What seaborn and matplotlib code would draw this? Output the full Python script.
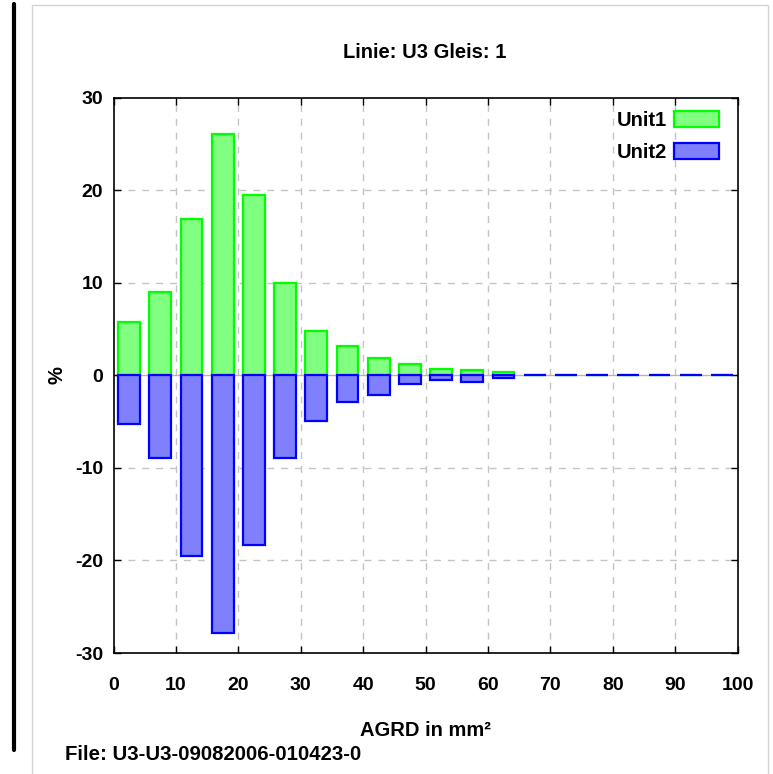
import numpy as np
import pandas as pd
import matplotlib
matplotlib.use("Agg")
import matplotlib.pyplot as plt
from matplotlib.patches import Patch, Rectangle
from matplotlib.lines import Line2D
import seaborn as sns

# ---- data ----
bin_centers = [2.5, 7.5, 12.5, 17.5, 22.5, 27.5, 32.5, 37.5, 42.5, 47.5,
               52.5, 57.5, 62.5, 67.5, 72.5, 77.5, 82.5, 87.5, 92.5, 97.5]
unit1 = [5.8, 9.0, 16.9, 26.1, 19.5, 10.0, 4.8, 3.2, 1.9, 1.25,
         0.7, 0.55, 0.3, 0, 0, 0, 0, 0, 0, 0]
unit2 = [-5.3, -8.9, -19.5, -27.8, -18.3, -8.9, -4.9, -2.9, -2.1, -0.9,
         -0.5, -0.7, -0.3, 0, 0, 0, 0, 0, 0, 0]
x_ticks = [0, 10, 20, 30, 40, 50, 60, 70, 80, 90, 100]
y_ticks = [-30, -20, -10, 0, 10, 20, 30]
series_names = ["Unit1", "Unit2"]

title_text = "Linie: U3 Gleis: 1"
xlabel_text = "AGRD in mm²"
ylabel_text = "%"
file_text = "File: U3-U3-09082006-010423-0"

sns.set_theme(style="white")
plt.rcParams['font.family'] = ['Liberation Sans', 'DejaVu Sans']
plt.rcParams['font.weight'] = 'bold'
plt.rcParams['text.color'] = 'black'

W, H = 773, 774
fig = plt.figure(figsize=(W / 100, H / 100), dpi=100)
fig.patch.set_facecolor("white")

def fx(px):
    return px / W

def fy(py):
    return 1 - py / H

ax = fig.add_axes([fx(113.5), fy(653), fx(737.5) - fx(113.5), fy(97.5) - fy(653)])
ax.set_facecolor("white")

df1 = pd.DataFrame({"x": bin_centers, "y": unit1})
df2 = pd.DataFrame({"x": bin_centers, "y": unit2})

g1, e1 = "#80ff80", "#00ff00"
b1, e2 = "#8080ff", "#0000ff"

# grid first
for xv in x_ticks[1:-1]:
    ax.axvline(xv, color="#c4c4c4", lw=1.0, ls=(0, (5, 5)), zorder=0)
for yv in y_ticks[1:-1]:
    if yv == 0:
        ax.axhline(yv, color="#b4b4b4", lw=1.0, zorder=0)
    else:
        ax.axhline(yv, color="#c4c4c4", lw=1.0, ls=(0, (5, 5)), zorder=0)

sns.barplot(data=df1, x="x", y="y", native_scale=True, orient="x", width=0.7,
            color=g1, saturation=1, edgecolor=e1, linewidth=1.6, errorbar=None, ax=ax,
            zorder=2)
sns.barplot(data=df2, x="x", y="y", native_scale=True, orient="x", width=0.7,
            color=b1, saturation=1, edgecolor=e2, linewidth=1.6, errorbar=None, ax=ax,
            zorder=3)

ax.set_xlim(0, 100)
ax.set_ylim(-30, 30)
ax.set_xticks(x_ticks)
ax.set_yticks(y_ticks)
ax.set_xticklabels([str(v) for v in x_ticks], fontsize=14, fontweight="bold")
ax.set_yticklabels([str(v) for v in y_ticks], fontsize=14, fontweight="bold")
ax.tick_params(axis="x", direction="in", length=5, width=1, color="black",
               top=True, bottom=True, pad=17.5, labelcolor="black")
ax.tick_params(axis="y", direction="in", length=5, width=1, color="black",
               left=True, right=True, pad=7.5, labelcolor="black")
ax.set_xlabel("")
ax.set_ylabel("")
for s in ax.spines.values():
    s.set_visible(True)
    s.set_color("black")
    s.set_linewidth(1.2)

# legend
handles = [Patch(facecolor=g1, edgecolor=e1, linewidth=1.6, label=series_names[0]),
           Patch(facecolor=b1, edgecolor=e2, linewidth=1.6, label=series_names[1])]
leg = ax.legend(handles=handles, loc="upper right", frameon=False, markerfirst=False,
                bbox_to_anchor=(fx(719), fy(111)), bbox_transform=fig.transFigure,
                borderpad=0, borderaxespad=0, handlelength=2.25, handleheight=0.85,
                handletextpad=0.35, labelspacing=0.65, labelcolor="black",
                prop={"family": "Liberation Sans", "weight": "bold", "size": 14.5})

# texts
fig.text(fx(425), fy(52), title_text, ha="center", va="center", fontsize=14.5,
         fontweight="bold", color="black")
fig.text(fx(425.5), fy(731), xlabel_text, ha="center", va="center", fontsize=14.5,
         fontweight="bold", color="black")
fig.text(fx(57), fy(375), ylabel_text, ha="center", va="center", fontsize=14.5,
         fontweight="bold", rotation=90, color="black")
fig.text(fx(65), fy(754), file_text, ha="left", va="center", fontsize=14.7,
         fontweight="bold", color="black")

# frame decorations
fig.add_artist(Rectangle((fx(32), fy(776)), fx(768) - fx(32), fy(5) - fy(776),
                         transform=fig.transFigure, fill=False, edgecolor="#d4d4d4",
                         linewidth=1.0))
fig.add_artist(Line2D([fx(14), fx(14)], [fy(4), fy(750)], transform=fig.transFigure,
                      color="black", linewidth=3.0))

fig.savefig("out.png", dpi=100, facecolor="white")
